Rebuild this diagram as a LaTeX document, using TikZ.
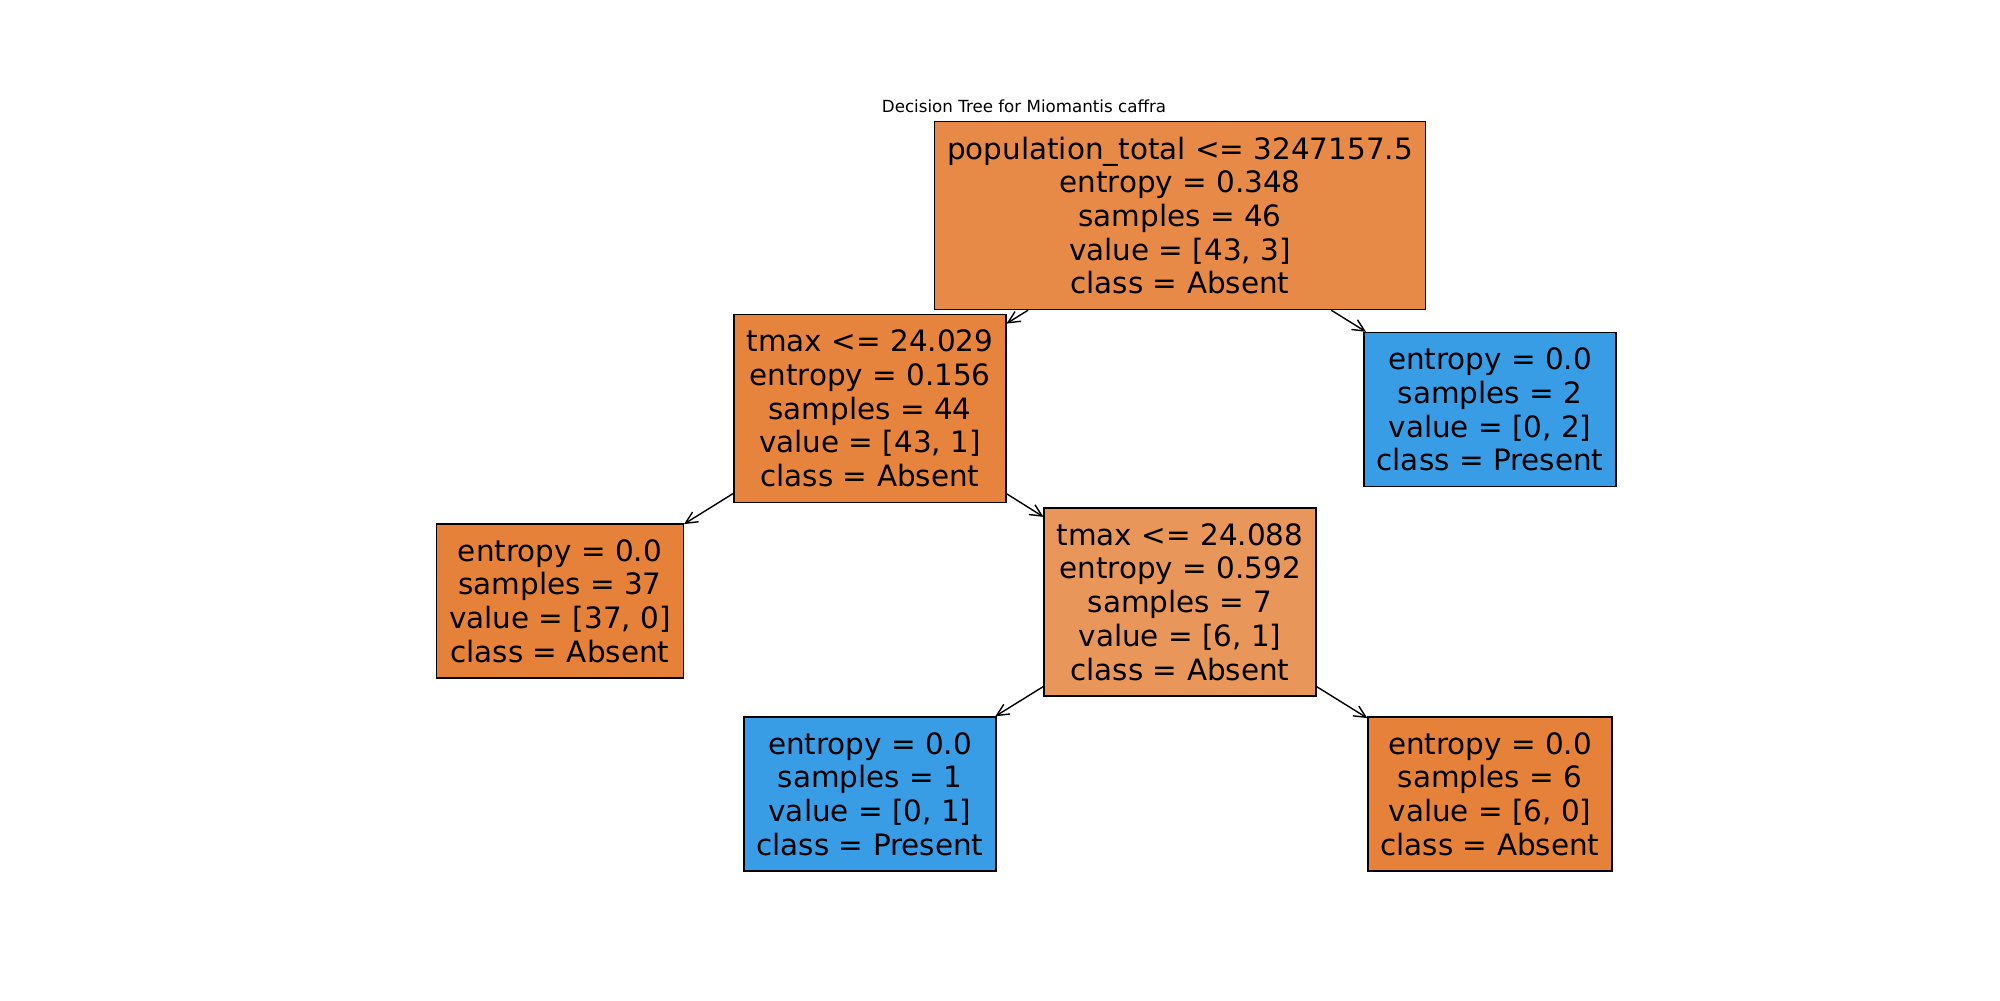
\documentclass[tikz,border=0pt]{standalone}
\usepackage{fontspec}
\setmainfont{DejaVu Sans}
\usepackage{tikz}
\usetikzlibrary{arrows.meta}
\definecolor{absent}{RGB}{229,129,57}
\definecolor{present}{RGB}{57,157,229}
\definecolor{rootfill}{RGB}{231,138,71}
\definecolor{splitfill}{RGB}{230,132,62}
\definecolor{mixfill}{RGB}{233,150,90}

\begin{document}
\begin{tikzpicture}[
  x=0.02cm, y=-0.02cm,
  font=\fontsize{16.75}{19.2}\selectfont,
  split/.style={draw=black, line width=0.8pt, align=center, inner xsep=0.25cm, inner ysep=0pt, minimum height=3.76cm},
  leaf/.style={split, minimum height=3.08cm},
  branch/.style={draw=black, line width=0.8pt, -{Straight Barb[length=6.8pt, width=6.5pt]}}
]
\useasboundingbox[fill=white] (0,0) rectangle (2000,1000);
\node[anchor=base, font=\fontsize{9.5}{11.4}\selectfont] (title) at (1024,112.7) {Decision Tree for Miomantis caffra};
\node[split, fill=rootfill] (root) at (1180,215.5) {population\_total <= 3247157.5\\entropy = 0.348\\samples = 46\\value = [43, 3]\\class = Absent};
\node[split, fill=splitfill] (t1) at (870,408.5) {tmax <= 24.029\\entropy = 0.156\\samples = 44\\value = [43, 1]\\class = Absent};
\node[leaf, fill=present] (p2) at (1490,409.5) {entropy = 0.0\\samples = 2\\value = [0, 2]\\class = Present};
\node[leaf, fill=absent] (a37) at (560,601) {entropy = 0.0\\samples = 37\\value = [37, 0]\\class = Absent};
\node[split, fill=mixfill] (t2) at (1180,602) {tmax <= 24.088\\entropy = 0.592\\samples = 7\\value = [6, 1]\\class = Absent};
\node[leaf, fill=present] (p1) at (870,794) {entropy = 0.0\\samples = 1\\value = [0, 1]\\class = Present};
\node[leaf, fill=absent] (a6) at (1490,794) {entropy = 0.0\\samples = 6\\value = [6, 0]\\class = Absent};
\foreach \a/\b in {root/t1,root/p2,t1/a37,t1/t2,t2/p1,t2/a6} {
  \draw[branch] (\a) -- (\b);
}
\end{tikzpicture}
\end{document}
